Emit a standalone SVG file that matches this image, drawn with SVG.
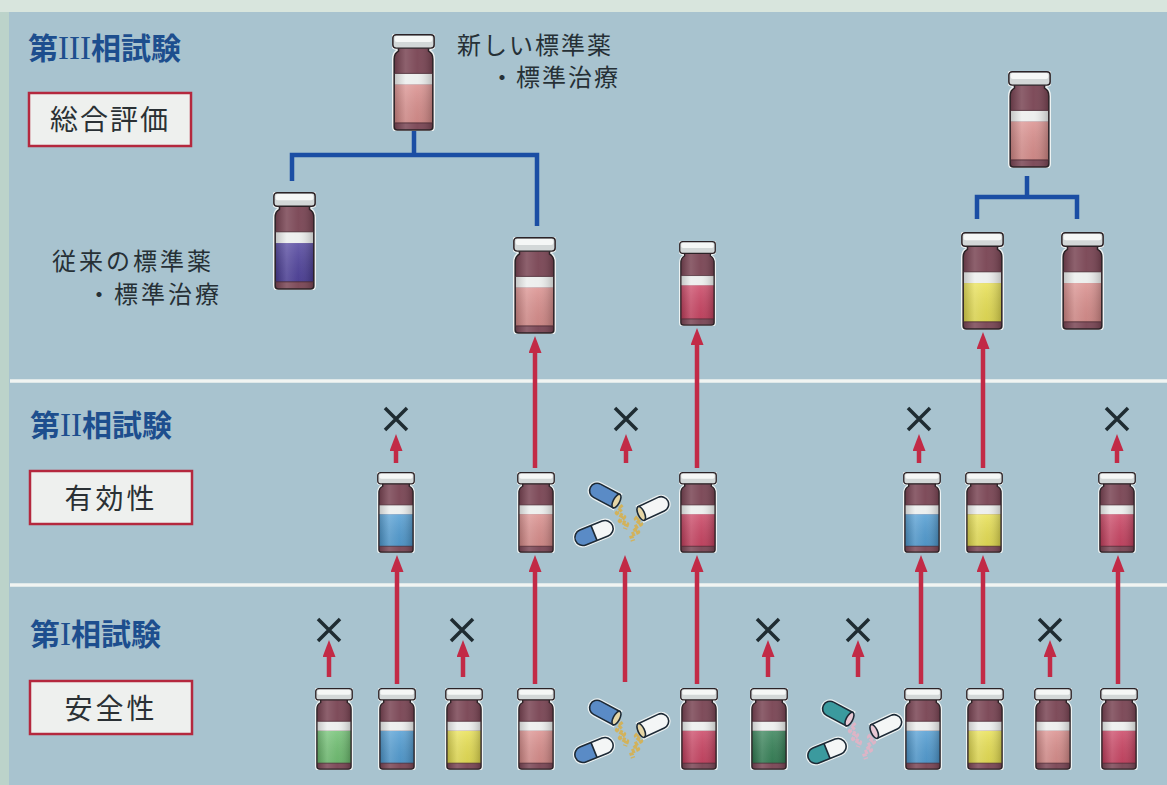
<svg xmlns="http://www.w3.org/2000/svg" width="1167" height="785" viewBox="0 0 1167 785">
  <style>
    .head { font-family: "Noto Sans CJK JP", sans-serif; font-weight: 700; font-size: 30px; fill: #1d4e8e; }
    .roman { font-family: "Liberation Serif", serif; font-weight: 400; font-size: 33px; }
    .boxtxt { font-family: "Noto Sans CJK JP", sans-serif; font-size: 28px; fill: #2a3034; }
    .lbl { font-family: "Noto Sans CJK JP", sans-serif; font-size: 24px; fill: #263036; }
    .box { fill: #eef0ee; stroke: #b4283e; stroke-width: 2.5; }
    .sep { stroke: #f1f4f2; stroke-width: 3.5; }
    .tree { fill: none; stroke: #1b4ea4; stroke-width: 4.5; stroke-linecap: butt; stroke-linejoin: miter; }
    .arr { fill: none; stroke: #c22a46; stroke-width: 4.5; marker-end: url(#ah); }
    .cross { fill: none; stroke: #1f2c32; stroke-width: 3.5; stroke-linecap: butt; }
    .capo { stroke: #1d2a36; stroke-width: 1.6; }
    .halo { fill: none; stroke: #eef3f3; stroke-width: 4; }
    .shellA { fill: var(--shell, #5a8bc6); }
    .shellW { fill: #f4f6f6; }
    .powder { fill: none; stroke: var(--pow, #d6b04e); stroke-width: 4.5; stroke-dasharray: 3 1.5; stroke-linejoin: round; opacity: 0.9; }
    .openend { fill: var(--inner, #e6d6a6); }
  </style>
  <defs>
    <marker id="ah" markerUnits="userSpaceOnUse" viewBox="0 0 17 13" refX="7" refY="6.5" markerWidth="17" markerHeight="13" orient="auto">
      <path d="M0,0 L17,6.5 L0,13 Z" fill="#c22a46"/>
    </marker>
    <linearGradient id="shade" x1="0" y1="0" x2="1" y2="0">
      <stop offset="0" stop-color="#000" stop-opacity="0.18"/>
      <stop offset="0.3" stop-color="#fff" stop-opacity="0.16"/>
      <stop offset="0.6" stop-color="#fff" stop-opacity="0.05"/>
      <stop offset="1" stop-color="#000" stop-opacity="0.22"/>
    </linearGradient>
    <linearGradient id="liqv" x1="0" y1="0" x2="0" y2="1">
      <stop offset="0" stop-color="#fff" stop-opacity="0.14"/>
      <stop offset="1" stop-color="#000" stop-opacity="0.08"/>
    </linearGradient>
    <!-- vial: liquid colour comes from the fill set on each <use> -->
    <symbol id="vial" viewBox="0 0 40 96" preserveAspectRatio="none">
      <path d="M6,13 L6,17 Q2,19 2,25 L2,92 Q2,95 5,95 L35,95 Q38,95 38,92 L38,25 Q38,19 34,17 L34,13 Z" fill="none" stroke="#eef3f3" stroke-width="4"/>
      <rect x="0.8" y="0.8" width="38.4" height="13.2" rx="3" fill="none" stroke="#eef3f3" stroke-width="3.5"/>
      <path d="M6,13 L6,17 Q2,19 2,25 L2,92 Q2,95 5,95 L35,95 Q38,95 38,92 L38,25 Q38,19 34,17 L34,13 Z" fill="#784352"/>
      <rect x="2" y="50" width="36" height="38"/>
      <rect x="2" y="50" width="36" height="38" fill="url(#liqv)"/>
      <rect x="2" y="39" width="36" height="11" fill="#eceeed"/>
      <path d="M6,13 L6,17 Q2,19 2,25 L2,92 Q2,95 5,95 L35,95 Q38,95 38,92 L38,25 Q38,19 34,17 L34,13 Z" fill="url(#shade)" stroke="#2b2226" stroke-width="1.4"/>
      <line x1="2" y1="39" x2="38" y2="39" stroke="#4a2a34" stroke-width="0.8"/>
      <line x1="2" y1="88" x2="38" y2="88" stroke="#4a2a34" stroke-width="0.8"/>
      <rect x="0.8" y="0.8" width="38.4" height="13.2" rx="3" fill="#d3d8d8" stroke="#2b2226" stroke-width="1.4"/>
      <rect x="2.5" y="2" width="35" height="6" rx="2" fill="#f5f7f6"/>
    </symbol>
    <!-- broken capsule group: two open halves spilling powder and one whole capsule -->
    <g id="capsules">
      <polyline class="powder" points="617,719 622,725 617,730 624,734 620,738 627,741 625,746"/>
      <polyline class="powder" points="641,731 636,736 641,741 634,745 638,749 631,752 633,758"/>
      <g transform="translate(605,712) rotate(28)">
        <path class="halo" d="M13,-7.5 L-9,-7.5 A7.5,7.5 0 0 0 -9,7.5 L13,7.5 Z"/>
        <path class="shellA capo" d="M13,-7.5 L-9,-7.5 A7.5,7.5 0 0 0 -9,7.5 L13,7.5 Z"/>
        <ellipse class="openend capo" cx="13" cy="0" rx="3.2" ry="7.5"/>
      </g>
      <g transform="translate(653,725) rotate(-25)">
        <path class="halo" d="M-13,-7.5 L9,-7.5 A7.5,7.5 0 0 1 9,7.5 L-13,7.5 Z"/>
        <path class="shellW capo" d="M-13,-7.5 L9,-7.5 A7.5,7.5 0 0 1 9,7.5 L-13,7.5 Z"/>
        <ellipse class="openend capo" cx="-13" cy="0" rx="3.2" ry="7.5"/>
      </g>
      <g transform="translate(594,750) rotate(-22)">
        <rect class="halo" x="-20" y="-8" width="40" height="16" rx="8"/>
        <path class="shellA" d="M0,-8 L-12,-8 A8,8 0 0 0 -12,8 L0,8 Z"/>
        <path class="shellW" d="M0,-8 L12,-8 A8,8 0 0 1 12,8 L0,8 Z"/>
        <rect class="capo" fill="none" x="-20" y="-8" width="40" height="16" rx="8"/>
        <line class="capo" x1="0" y1="-8" x2="0" y2="8"/>
      </g>
    </g>
    <path id="x" class="cross" d="M-11,-11 L11,11 M11,-11 L-11,11"/>
  </defs>

  <!-- backdrop -->
  <rect x="0" y="0" width="1167" height="785" fill="#bcd3ca"/>
  <rect x="0" y="0" width="1167" height="12" fill="#d8e5dd"/>
  <rect x="9" y="12" width="1158" height="773" fill="#a8c3cf"/>
  <line class="sep" x1="10" y1="381" x2="1167" y2="381"/>
  <line class="sep" x1="10" y1="585" x2="1167" y2="585"/>

  <!-- phase headings and boxes -->
  <g id="phase3">
    <text class="head" x="28" y="59">第<tspan class="roman">III</tspan>相試験</text>
    <rect class="box" x="29" y="93" width="162" height="53"/>
    <text class="boxtxt" x="110" y="130" text-anchor="middle" letter-spacing="2">総合評価</text>
  </g>
  <g id="phase2">
    <text class="head" x="30" y="436">第<tspan class="roman">II</tspan>相試験</text>
    <rect class="box" x="30" y="471" width="162" height="53"/>
    <text class="boxtxt" x="111" y="509" text-anchor="middle" letter-spacing="3">有効性</text>
  </g>
  <g id="phase1">
    <text class="head" x="30" y="645">第<tspan class="roman">I</tspan>相試験</text>
    <rect class="box" x="30" y="681" width="162" height="53"/>
    <text class="boxtxt" x="111" y="719" text-anchor="middle" letter-spacing="3">安全性</text>
  </g>

  <!-- captions -->
  <g id="label-new">
    <text class="lbl" x="457" y="54" letter-spacing="2">新しい標準薬</text>
    <text class="lbl" x="490" y="86" letter-spacing="2">・標準治療</text>
  </g>
  <g id="label-old">
    <text class="lbl" x="52" y="270" letter-spacing="3">従来の標準薬</text>
    <text class="lbl" x="87" y="303" letter-spacing="3">・標準治療</text>
  </g>

  <!-- connectors -->
  <g id="connectors">
    <path class="tree" d="M414,131 V155 M292,181 V155 H537 V226"/>
    <path class="tree" d="M1027,176 V197 M977,219 V197 H1077 V219"/>
    <!-- phase II to phase III -->
    <line class="arr" x1="535" y1="468" x2="535" y2="346"/>
    <line class="arr" x1="697" y1="468" x2="697" y2="338"/>
    <line class="arr" x1="983" y1="468" x2="983" y2="342"/>
    <!-- phase I to phase II -->
    <line class="arr" x1="397" y1="684" x2="397" y2="565"/>
    <line class="arr" x1="535" y1="684" x2="535" y2="565"/>
    <line class="arr" x1="625" y1="682" x2="625" y2="565"/>
    <line class="arr" x1="697" y1="684" x2="697" y2="565"/>
    <line class="arr" x1="921" y1="684" x2="921" y2="565"/>
    <line class="arr" x1="983" y1="684" x2="983" y2="565"/>
    <line class="arr" x1="1118" y1="684" x2="1118" y2="565"/>
    <!-- dropped candidates -->
    <line class="arr" x1="396" y1="463" x2="396" y2="444"/>
    <line class="arr" x1="626" y1="463" x2="626" y2="444"/>
    <line class="arr" x1="919" y1="463" x2="919" y2="444"/>
    <line class="arr" x1="1117" y1="463" x2="1117" y2="444"/>
    <line class="arr" x1="329" y1="677" x2="329" y2="650"/>
    <line class="arr" x1="463" y1="677" x2="463" y2="650"/>
    <line class="arr" x1="768" y1="677" x2="768" y2="650"/>
    <line class="arr" x1="858" y1="677" x2="858" y2="650"/>
    <line class="arr" x1="1050" y1="677" x2="1050" y2="650"/>
  </g>

  <!-- rejection marks -->
  <g id="rejects">
    <use href="#x" x="396" y="419"/>
    <use href="#x" x="626" y="419"/>
    <use href="#x" x="919" y="419"/>
    <use href="#x" x="1117" y="419"/>
    <use href="#x" x="329" y="630"/>
    <use href="#x" x="462" y="630"/>
    <use href="#x" x="768" y="630"/>
    <use href="#x" x="858" y="630"/>
    <use href="#x" x="1050" y="630"/>
  </g>

  <!-- phase III vials -->
  <g id="v3-new"><use href="#vial" x="392" y="34" width="43" height="97" fill="#d98b89"/></g>
  <g id="v3-old"><use href="#vial" x="273" y="192" width="43" height="98" fill="#4a3c9a"/></g>
  <g id="v3-a"><use href="#vial" x="513" y="237" width="43" height="97" fill="#d98b89"/></g>
  <g id="v3-b"><use href="#vial" x="679" y="241" width="37" height="85" fill="#c93e5e"/></g>
  <g id="v3-right"><use href="#vial" x="1008" y="71" width="43" height="97" fill="#d98b89"/></g>
  <g id="v3-c"><use href="#vial" x="961" y="232" width="43" height="98" fill="#e8e04e"/></g>
  <g id="v3-d"><use href="#vial" x="1061" y="232" width="43" height="98" fill="#d98b89"/></g>

  <!-- phase II vials -->
  <g id="v2-1"><use href="#vial" x="377" y="472" width="38" height="81" fill="#4c9ad2"/></g>
  <g id="v2-2"><use href="#vial" x="517" y="472" width="38" height="81" fill="#d98b89"/></g>
  <g id="v2-3"><use href="#vial" x="679" y="472" width="38" height="81" fill="#c93e5e"/></g>
  <g id="v2-4"><use href="#vial" x="903" y="472" width="38" height="81" fill="#4c9ad2"/></g>
  <g id="v2-5"><use href="#vial" x="965" y="472" width="38" height="81" fill="#e8e04e"/></g>
  <g id="v2-6"><use href="#vial" x="1098" y="472" width="38" height="81" fill="#c93e5e"/></g>
  <g id="caps2"><use href="#capsules" transform="translate(0,-217)"/></g>

  <!-- phase I vials -->
  <g id="v1-1"><use href="#vial" x="315" y="688" width="38" height="82" fill="#6cbf6e"/></g>
  <g id="v1-2"><use href="#vial" x="378" y="688" width="38" height="82" fill="#4c9ad2"/></g>
  <g id="v1-3"><use href="#vial" x="445" y="688" width="38" height="82" fill="#e8e04e"/></g>
  <g id="v1-4"><use href="#vial" x="517" y="688" width="38" height="82" fill="#d98b89"/></g>
  <g id="v1-5"><use href="#vial" x="680" y="688" width="38" height="82" fill="#c93e5e"/></g>
  <g id="v1-6"><use href="#vial" x="750" y="688" width="38" height="82" fill="#2f7e52"/></g>
  <g id="v1-7"><use href="#vial" x="904" y="688" width="38" height="82" fill="#4c9ad2"/></g>
  <g id="v1-8"><use href="#vial" x="966" y="688" width="38" height="82" fill="#e8e04e"/></g>
  <g id="v1-9"><use href="#vial" x="1034" y="688" width="38" height="82" fill="#d98b89"/></g>
  <g id="v1-10"><use href="#vial" x="1100" y="688" width="38" height="82" fill="#c93e5e"/></g>
  <g id="caps1"><use href="#capsules"/></g>
  <g id="caps1-teal"><use href="#capsules" transform="translate(233,1)" style="--shell:#3b9a9e; --pow:#e2b2c4; --inner:#e8c8d4"/></g>
</svg>
